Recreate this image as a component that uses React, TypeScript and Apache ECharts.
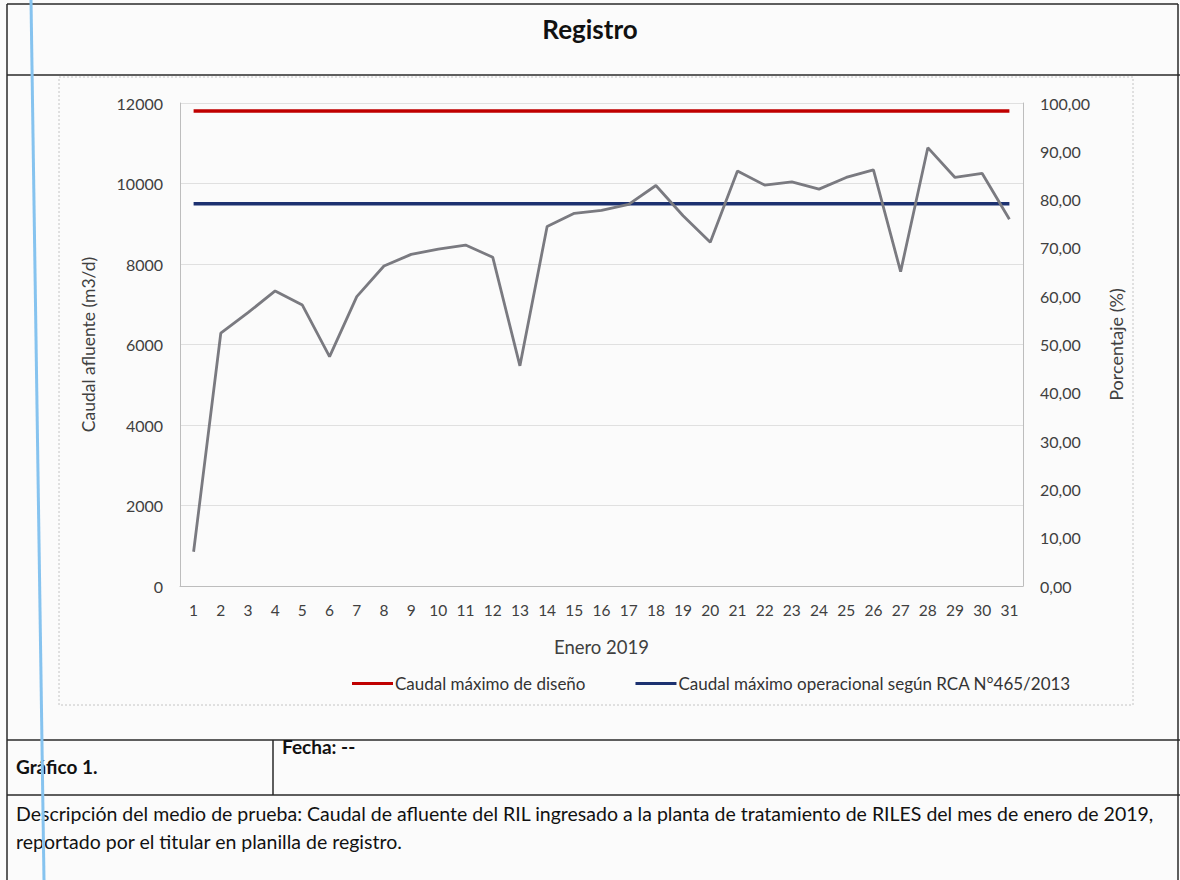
import React, { useEffect, useRef } from "react";
import * as echarts from "echarts";

const days = Array.from({ length: 31 }, (_, i) => String(i + 1));
const caudalAfluente = [
  850, 6280, 6790, 7330, 6980, 5700, 7190, 7950, 8240, 8370, 8470, 8170, 5470, 8930, 9260, 9330,
  9480, 9950, 9200, 8540, 10310, 9960, 10040, 9860, 10150, 10340, 7810, 10890, 10150, 10250, 9110,
];
const caudalMaxDiseno = Array.from({ length: 31 }, () => 11800);
const caudalMaxOperacional = Array.from({ length: 31 }, () => 9500);

const FONT = "Lato, 'Open Sans', sans-serif";

export default function App() {
  const ref = useRef<HTMLDivElement>(null);
  useEffect(() => {
    if (!ref.current) return;
    const chart = echarts.init(ref.current, null, { renderer: "svg" });
    const lineBlack = { stroke: "#2a2a2a", lineWidth: 1.5 };
    chart.setOption({
      animation: false,
      backgroundColor: "#fbfbfb",
      textStyle: { fontFamily: FONT },
      title: {
        text: "Registro",
        left: "center",
        top: 11,
        textStyle: { fontFamily: FONT, fontSize: 26, fontWeight: "bold", color: "#111" },
      },
      grid: { left: 180, right: 157, top: 103, bottom: 294 },
      legend: {
        data: ["Caudal máximo de diseño", "Caudal máximo operacional según RCA N°465/2013"],
        left: 347,
        top: 670,
        icon: "rect",
        itemWidth: 41,
        itemHeight: 3,
        itemGap: 50,
        textStyle: { fontFamily: FONT, fontSize: 17, color: "#333", padding: [0, 0, 0, -3] },
      },
      xAxis: {
        type: "category",
        data: days,
        boundaryGap: true,
        name: "Enero 2019",
        nameLocation: "middle",
        nameGap: 51,
        nameTextStyle: { fontFamily: FONT, fontSize: 18.5, color: "#404040" },
        axisLine: { lineStyle: { color: "#bdbdbd" } },
        axisTick: { show: false },
        axisLabel: { margin: 16, fontFamily: FONT, fontSize: 15.5, color: "#404040", interval: 0 },
      },
      yAxis: [
        {
          type: "value",
          min: 0,
          max: 12000,
          interval: 2000,
          name: "Caudal afluente (m3/d)",
          nameLocation: "middle",
          nameGap: 83,
          nameTextStyle: { fontFamily: FONT, fontSize: 17.5, color: "#404040" },
          axisLine: { show: true, lineStyle: { color: "#bdbdbd" } },
          axisTick: { show: false },
          axisLabel: {
            margin: 17,
            fontFamily: FONT,
            fontSize: 16,
            color: "#404040",
            formatter: (v: number) => String(v),
          },
          splitLine: { lineStyle: { color: "#e0e0e0" } },
        },
        {
          type: "value",
          min: 0,
          max: 100,
          interval: 10,
          name: "Porcentaje (%)",
          nameLocation: "middle",
          nameGap: 84,
          nameTextStyle: { fontFamily: FONT, fontSize: 18, color: "#404040" },
          axisLine: { show: true, lineStyle: { color: "#bdbdbd" } },
          axisTick: { show: false },
          splitLine: { show: false },
          axisLabel: {
            margin: 17,
            fontFamily: FONT,
            fontSize: 16,
            color: "#404040",
            formatter: (v: number) => v.toFixed(2).replace(".", ","),
          },
        },
      ],
      series: [
        {
          name: "Caudal máximo de diseño",
          type: "line",
          data: caudalMaxDiseno,
          symbol: "none",
          lineStyle: { color: "#c00000", width: 3.5 },
          itemStyle: { color: "#c00000" },
        },
        {
          name: "Caudal máximo operacional según RCA N°465/2013",
          type: "line",
          data: caudalMaxOperacional,
          symbol: "none",
          lineStyle: { color: "#1c3170", width: 3.5 },
          itemStyle: { color: "#1c3170" },
        },
        {
          name: "Caudal afluente",
          type: "line",
          data: caudalAfluente,
          symbol: "none",
          lineStyle: { color: "#7a7a80", width: 2.8 },
          itemStyle: { color: "#7a7a80" },
        },
      ],
      graphic: [
        { type: "line", shape: { x1: 7, y1: 4, x2: 1178, y2: 4 }, style: lineBlack },
        { type: "line", shape: { x1: 7, y1: 75, x2: 1180, y2: 75 }, style: lineBlack },
        { type: "line", shape: { x1: 7, y1: 740, x2: 1180, y2: 740 }, style: lineBlack },
        { type: "line", shape: { x1: 7, y1: 795, x2: 1180, y2: 795 }, style: lineBlack },
        { type: "line", shape: { x1: 7, y1: 4, x2: 7, y2: 880 }, style: lineBlack },
        { type: "line", shape: { x1: 1178, y1: 4, x2: 1178, y2: 880 }, style: lineBlack },
        { type: "line", shape: { x1: 273, y1: 740, x2: 273, y2: 795 }, style: lineBlack },
        {
          type: "rect",
          shape: { x: 59, y: 77, width: 1074, height: 628 },
          style: { fill: "none", stroke: "#c4c4c4", lineWidth: 1, lineDash: [2, 2] },
          z: -1,
        },
        {
          type: "text",
          left: 16,
          top: 757,
          style: { text: "Gráfico 1.", fontFamily: FONT, fontSize: 19, fontWeight: "bold", fill: "#111" },
        },
        {
          type: "text",
          left: 282,
          top: 737,
          style: { text: "Fecha: --", fontFamily: FONT, fontSize: 19, fontWeight: "bold", fill: "#111" },
        },
        {
          type: "text",
          left: 16,
          top: 803,
          style: {
            text:
              "Descripción del medio de prueba: Caudal de afluente del RIL ingresado a la planta de tratamiento de RILES del mes de enero de 2019,",
            fontFamily: FONT,
            fontSize: 19.5,
            fill: "#111",
          },
        },
        {
          type: "text",
          left: 16,
          top: 831,
          style: {
            text: "reportado por el titular en planilla de registro.",
            fontFamily: FONT,
            fontSize: 19.5,
            fill: "#111",
          },
        },
        {
          type: "line",
          shape: { x1: 31, y1: 0, x2: 44, y2: 880 },
          style: { stroke: "#86c3ef", lineWidth: 3 },
          z: 100,
        },
      ],
    });
    return () => chart.dispose();
  }, []);
  return (
    <div
      ref={ref}
      style={{ position: "fixed", left: 0, top: 0, width: 1180, height: 880 }}
    />
  );
}
